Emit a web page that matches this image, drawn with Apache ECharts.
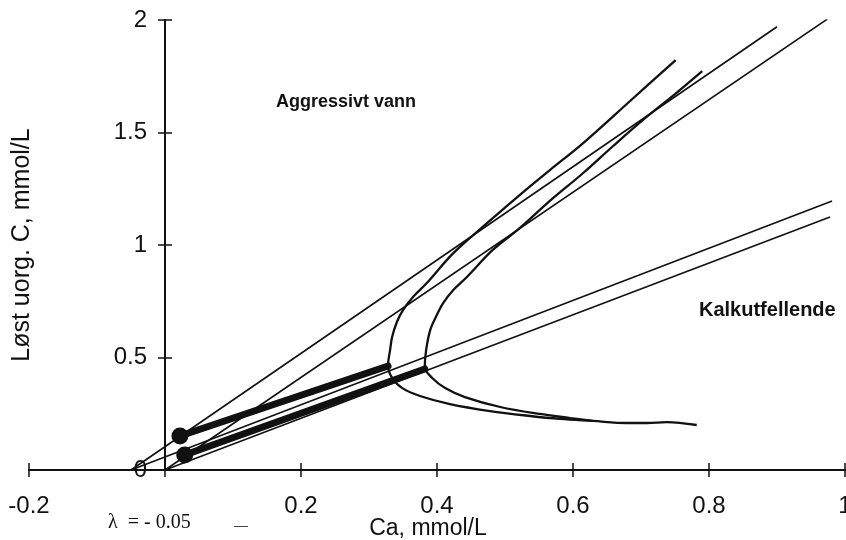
<!DOCTYPE html>
<html>
<head>
<meta charset="utf-8">
<title>Løst uorg. C mot Ca</title>
<script src="https://cdn.jsdelivr.net/npm/echarts@6/dist/echarts.min.js"></script>
<style>
html, body { margin: 0; padding: 0; background: #fff; }
#chart-container { width: 846px; height: 540px; }
</style>
</head>
<body>
<div id="chart-container"></div>
<script>
var dom = document.getElementById('chart-container');
var myChart = echarts.init(dom, null, { renderer: 'canvas' });

// straight guide lines (Ca, C) - two start at lambda = -0.05, two at the origin
var lineA = [[-0.05, 0], [0.900, 1.970]];
var lineB = [[0, 0], [0.974, 2.004]];
var lineD = [[-0.05, 0], [0.981, 1.196]];
var lineE = [[0, 0], [0.978, 1.124]];

// equilibrium curves, read from lower right, round the nose, up to the top
var curve1 = [
    [0.782, 0.200], [0.738, 0.213], [0.709, 0.209], [0.679, 0.209], [0.629, 0.218],
    [0.581, 0.227], [0.537, 0.240], [0.478, 0.262], [0.419, 0.293], [0.375, 0.329],
    [0.349, 0.364], [0.334, 0.409], [0.328, 0.467], [0.331, 0.533], [0.334, 0.591],
    [0.341, 0.658], [0.350, 0.711], [0.366, 0.773], [0.385, 0.831], [0.424, 0.964],
    [0.474, 1.098], [0.518, 1.213], [0.566, 1.333], [0.615, 1.453], [0.684, 1.640],
    [0.751, 1.822]
];
var curve2 = [
    [0.629, 0.218], [0.596, 0.231], [0.551, 0.249], [0.493, 0.280], [0.441, 0.324],
    [0.412, 0.364], [0.393, 0.409], [0.382, 0.458], [0.384, 0.533], [0.390, 0.622],
    [0.399, 0.684], [0.409, 0.742], [0.424, 0.800], [0.444, 0.858], [0.482, 0.978],
    [0.522, 1.076], [0.566, 1.196], [0.615, 1.320], [0.659, 1.440], [0.703, 1.556],
    [0.750, 1.671], [0.790, 1.773]
];

// thick paths from the two raw-water points to the curves
var pathUpper = [[0.022, 0.151], [0.328, 0.462]];
var pathLower = [[0.029, 0.067], [0.382, 0.449]];
var startPoints = [[0.022, 0.151], [0.029, 0.067]];

var xHiddenLabels = [0];

var ink = '#111';
var sans = '"Liberation Sans", Arial, Helvetica, sans-serif';

function thin(name, pts) {
    return {
        type: 'line', name: name, data: pts, showSymbol: false, silent: true,
        lineStyle: { color: ink, width: 1.6 }, z: 2
    };
}

function curve(name, pts) {
    return {
        type: 'line', name: name, data: pts, showSymbol: false, silent: true,
        smooth: 0.35, lineStyle: { color: ink, width: 2.3 }, z: 3
    };
}

function thick(name, pts) {
    return {
        type: 'line', name: name, data: pts, showSymbol: false, silent: true,
        lineStyle: { color: ink, width: 7, cap: 'round' }, z: 4
    };
}

function xAxisDef(inside, main) {
    return {
        type: 'value', gridIndex: 0, min: -0.2, max: 1, interval: 0.2, position: 'bottom',
        axisLine: { onZero: false, lineStyle: { color: ink, width: 2 } },
        axisTick: { show: true, inside: inside, length: 7, lineStyle: { color: ink, width: 1.5 } },
        axisLabel: {
            show: main, margin: 24, color: ink, fontSize: 24, fontFamily: sans,
            formatter: function (v) { return xHiddenLabels.indexOf(v) >= 0 ? '' : String(v); }
        },
        splitLine: { show: false }
    };
}

// the visible y axis sits in a second grid whose left edge is x = 0
function yAxisDef(inside, main) {
    return {
        type: 'value', gridIndex: 1, min: 0, max: 2, interval: 0.5, position: 'left',
        axisLine: { onZero: false, lineStyle: { color: ink, width: 2 } },
        axisTick: { show: true, inside: inside, length: 7, lineStyle: { color: ink, width: 1.5 } },
        axisLabel: { show: main, margin: 18, color: ink, fontSize: 24, fontFamily: sans },
        splitLine: { show: false }
    };
}

var option = {
    backgroundColor: '#fff',
    animation: false,
    grid: [
        { left: 29, right: 1, top: 20, bottom: 70, outerBoundsMode: 'none' },
        { left: 165, right: 1, top: 20, bottom: 70, outerBoundsMode: 'none' }
    ],
    xAxis: [
        xAxisDef(false, true),
        xAxisDef(true, false),
        { type: 'value', gridIndex: 1, min: 0, max: 1, show: false }
    ],
    yAxis: [
        { type: 'value', gridIndex: 0, min: 0, max: 2, show: false },
        yAxisDef(false, true),
        yAxisDef(true, false)
    ],
    series: [
        thin('A', lineA),
        thin('B', lineB),
        thin('D', lineD),
        thin('E', lineE),
        curve('kurve 1', curve1),
        curve('kurve 2', curve2),
        thick('vei 1', pathUpper),
        thick('vei 2', pathLower),
        {
            type: 'scatter', data: startPoints, symbolSize: 17, silent: true, z: 5,
            itemStyle: { color: ink, opacity: 1 }
        }
    ],
    graphic: [
        { type: 'text', left: 276, top: 93, style: { text: 'Aggressivt vann', font: 'bold 18px ' + sans, fill: ink } },
        { type: 'text', left: 699, top: 300, style: { text: 'Kalkutfellende', font: 'bold 20px ' + sans, fill: ink } },
        { type: 'text', left: 108, top: 513, style: { text: 'λ  = - 0.05', font: '20px "Liberation Serif", "Times New Roman", serif', fill: ink } },
        { type: 'text', left: 234, top: 519, style: { text: '—', font: '14px ' + sans, fill: '#444' } },
        { type: 'text', x: 428, y: 529, style: { text: 'Ca, mmol/L', font: '23px ' + sans, fill: ink, align: 'center', verticalAlign: 'middle' } },
        { type: 'text', x: 22, y: 245, rotation: Math.PI / 2, style: { text: 'Løst uorg. C, mmol/L', font: '25px ' + sans, fill: ink, align: 'center', verticalAlign: 'middle' } }
    ]
};

myChart.setOption(option);
window.addEventListener('resize', myChart.resize);
</script>
</body>
</html>
